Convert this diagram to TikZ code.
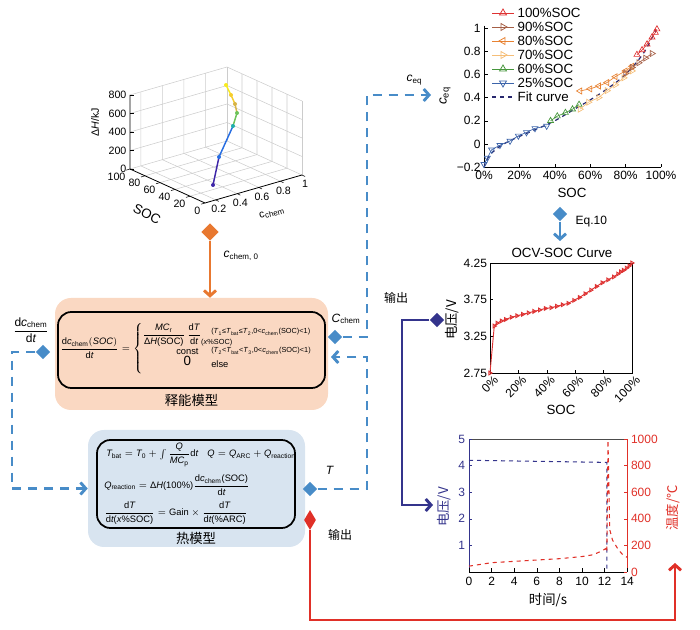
\documentclass[tikz,border=0pt]{standalone}
\usepackage{amsmath}
\usepackage{fontspec}
\setmainfont{Liberation Sans}
\newfontfamily\cjk{Noto Sans CJK SC}
\usetikzlibrary{positioning,calc,arrows.meta,shapes.geometric,plotmarks}
\definecolor{cblue}{RGB}{72,140,200}
\definecolor{corange}{RGB}{232,120,48}
\definecolor{cnavy}{RGB}{52,52,140}
\definecolor{cred}{RGB}{224,48,40}
\definecolor{cpeach}{RGB}{250,216,194}
\definecolor{cice}{RGB}{216,228,240}
\definecolor{ca}{RGB}{222,50,50}
\definecolor{cb}{RGB}{165,95,70}
\definecolor{cc}{RGB}{232,130,50}
\definecolor{cd}{RGB}{245,190,120}
\definecolor{ce}{RGB}{70,150,60}
\definecolor{cf}{RGB}{60,100,170}
\definecolor{cfit}{RGB}{40,40,110}
\definecolor{pa}{RGB}{62,38,168}
\definecolor{pb}{RGB}{40,110,225}
\definecolor{pc}{RGB}{30,175,170}
\definecolor{pd}{RGB}{110,195,90}
\definecolor{pe}{RGB}{215,180,70}
\definecolor{pf}{RGB}{245,205,45}
\definecolor{pg}{RGB}{248,235,30}
\newcommand{\ti}[1]{\textit{#1}}
\newcommand{\sbs}[1]{\textsubscript{#1}}
\newcommand{\cnd}{\fontsize{5.5}{6.5}\selectfont}
\tikzset{dpanel/.style={rounded corners=12, inner sep=0pt}}
\tikzset{dinner/.style={draw, line width=1.3pt, rounded corners=10, inner sep=0pt}}
\tikzset{dia/.style={diamond, fill=#1, inner sep=0pt, minimum size=11pt}}
\tikzset{arrd/.style={draw=cblue, line width=2.2pt, dash pattern=on 7pt off 5pt}}
\tikzset{arrh/.style={-{Straight Barb[length=4pt,width=9pt]}}}
\tikzset{tk/.style={font=\small, inner sep=1pt}}
\tikzset{gr/.style={draw=black!20, line width=0.4pt}}
\tikzset{lab/.style={font=\small, inner sep=1pt}}
\tikzset{zh/.style={font=\cjk\small, inner sep=1pt}}
\tikzset{cond/.style={font=\cnd, inner sep=0pt, anchor=west}}

\begin{document}
\begin{tikzpicture}[x=0.75pt,y=-0.75pt]
\useasboundingbox (0,0) rectangle (700,630);

\coordinate (pF) at (205,203);
\coordinate (pA) at (130,169);
\coordinate (pC) at (302,175);
\coordinate (pB) at (227,141);
\draw[gr] (pA) -- (pB) -- (pC);
\draw[gr] (pB) -- ++(0,-74);
\draw[gr] (pC) -- ++(0,-74);
\foreach \sf in {0.2,0.4,0.6,0.8} {
  \draw[gr] ($(pF)!\sf!(pA)$) -- ($(pC)!\sf!(pB)$) -- ++(0,-74);
}
\foreach \cf in {0.111,0.333,0.556,0.778} {
  \draw[gr] ($(pF)!\cf!(pC)$) -- ($(pA)!\cf!(pB)$) -- ++(0,-74);
}
\foreach \hh in {18.5,37,55.5,74} {
  \draw[gr] ($(pA)+(0,-\hh)$) -- ($(pB)+(0,-\hh)$) -- ($(pC)+(0,-\hh)$);
}
\draw[line width=0.6pt] (pC) -- (pF) -- (pA) -- ++(0,-74);
\foreach \vv/\hh [count=\i] in {0/0,200/18.5,400/37,600/55.5,800/74} {
  \draw ($(pA)+(0,-\hh)$) -- ++(4,0);
  \node[tk, font=\footnotesize, anchor=east] (zt\i) at ($(pA)+(-2,-\hh)$) {\vv};
}
\foreach \vv/\sf [count=\i] in {0/0,20/0.2,40/0.4,60/0.6,80/0.8,100/1} {
  \draw ($(pF)!\sf!(pA)$) -- ++(-4,1.2);
  \node[tk, font=\footnotesize, anchor=north east] (st\i) at ($(pF)!\sf!(pA)+(-3,2)$) {\vv};
}
\foreach \vv/\cf [count=\i] in {0.2/0.111,0.4/0.333,0.6/0.556,0.8/0.778,1/1} {
  \draw ($(pF)!\cf!(pC)$) -- ++(3,1.5);
  \node[tk, font=\footnotesize, anchor=north] (ct\i) at ($(pF)!\cf!(pC)+(3,4)$) {\vv};
}
\node[lab, rotate=90, font=\footnotesize] (zlab) at (95,122) {Δ\ti{H}/kJ};
\node[lab, rotate=-27, font=\normalsize] (slab) at (147,214) {SOC};
\node[lab, rotate=16, font=\footnotesize] (clab) at (272,213) {c\sbs{chem}};
\draw[pa, line width=1.1pt] (213,185) -- (219,157);
\draw[pb, line width=1.1pt] (219,157) -- (233,126);
\draw[pd, line width=1.1pt] (233,126) -- (237,113);
\draw[pe, line width=1.1pt] (237,113) -- (235,104);
\draw[pf, line width=1.1pt] (235,104) -- (231,95);
\draw[pg, line width=1.1pt] (231,95) -- (226,85);
\fill[pa] (213,185) circle (2);
\fill[pb] (219,157) circle (2);
\fill[pc] (233,126) circle (2);
\fill[pd] (237,113) circle (2);
\fill[pe] (235,104) circle (2);
\fill[pf] (231,95) circle (2);
\fill[pg] (226,85) circle (2);

\node[dpanel, fill=cpeach, minimum width=204.75pt, minimum height=84pt] (rel) at (191.5,354) {};
\node[dinner, minimum width=200.25pt, minimum height=57pt] (relin) at (191.5,350) {};
\node[zh, font=\cjk\normalsize] (relcap) at (191.5,400) {释能模型};
\node[anchor=west, font=\scriptsize, inner sep=0pt] (relf) at (60,349) {$\dfrac{\text{d}\ti{c}\sbs{chem}(\ti{SOC})}{\text{d}\ti{t}}=\left\{\begin{array}{@{}c@{}}\dfrac{\ti{MC}\sbs{r}}{\text{Δ}\ti{H}\text{(SOC)}}\,\dfrac{\text{d}\ti{T}}{\text{d}\ti{t}}\raisebox{-5pt}{\text{\cnd(\ti{x}\%SOC)}}\\[3pt] \text{const}\\[-1pt] \text{\normalsize 0}\\[4pt]\end{array}\right.$};
\node[cond] (cnd1) at (211,332) {(\ti{T}\sbs{1}≤\ti{T}\sbs{bat}≤\ti{T}\sbs{2},0<\ti{c}\sbs{chem}(SOC)<1)};
\node[cond] (cnd2) at (211,351) {(\ti{T}\sbs{2}<\ti{T}\sbs{bat}<\ti{T}\sbs{3},0<\ti{c}\sbs{chem}(SOC)<1)};
\node[cond, font=\scriptsize] (cnd3) at (211,364) {else};

\node[dpanel, fill=cice, minimum width=162.75pt, minimum height=87.75pt] (heat) at (196.5,488.5) {};
\node[dinner, minimum width=148.5pt, minimum height=66pt] (heatin) at (196,484) {};
\node[zh, font=\cjk\normalsize] (heatcap) at (196,538) {热模型};
\node[anchor=west, font=\scriptsize, inner sep=0pt] (heat1) at (106,455) {$\ti{T}\sbs{bat}=\ti{T}\sbs{0}+\int\dfrac{\ti{Q}}{\ti{MC}\sbs{p}}\text{d}\ti{t}\quad\ti{Q}=\ti{Q}\sbs{ARC}+\ti{Q}\sbs{reaction}$};
\node[anchor=west, font=\scriptsize, inner sep=0pt] (heat2) at (104,485) {$\ti{Q}\sbs{reaction}=\text{Δ}\ti{H}\text{(100\%)}\dfrac{\text{d}\ti{c}\sbs{chem}\text{(SOC)}}{\text{d}\ti{t}}$};
\node[anchor=west, font=\scriptsize, inner sep=0pt] (heat3) at (104,513) {$\dfrac{\text{d}\ti{T}}{\text{d}\ti{t}\text{(\ti{x}\%SOC)}}=\text{Gain}\times\dfrac{\text{d}\ti{T}}{\text{d}\ti{t}\text{(\%ARC)}}$};

\begin{scope}[shift={(484,144)}, x=1.3275pt, y=87pt]
\draw[line width=0.6pt] (0,1.02) -- (0,-0.2) -- (100,-0.2);
\foreach \vv/\tx [count=\i] in {1/1,0.8/0.8,0.6/0.6,0.4/0.4,0.2/0.2,0/0,-0.2/−0.2} {
  \draw (0,\vv) -- (2.5,\vv);
  \node[tk, anchor=east] (cy\i) at (-1,\vv) {\tx};
}
\foreach \pp [count=\i] in {0,20,40,60,80,100} {
  \draw (\pp,-0.2) -- (\pp,-0.17);
  \node[tk, anchor=north] (cx\i) at (\pp,-0.22) {\pp\%};
}
\draw[cfit, dashed, line width=0.9pt] plot[smooth] coordinates {(0,-0.2) (3,-0.1) (10,-0.01) (20,0.065) (30,0.13) (40,0.2) (50,0.29) (60,0.38) (70,0.48) (80,0.6) (90,0.78) (97,0.98)};
\draw[cf, line width=0.5pt] plot[mark=triangle, mark size=2.6pt, mark options={rotate=180}] coordinates {(0,-0.175) (1.9,-0.12) (4.3,-0.05) (9,-0.01) (14.7,0.026) (19.4,0.07) (24,0.1) (28.8,0.135) (35.4,0.155)};
\draw[ce, line width=0.5pt] plot[mark=triangle, mark size=2.6pt] coordinates {(37.6,0.2) (41.4,0.24) (46,0.27) (50,0.3) (53.7,0.34)};
\draw[cd, line width=0.5pt] plot[mark=triangle, mark size=2.6pt, mark options={rotate=-90}] coordinates {(54.2,0.3) (59,0.36) (64.8,0.4) (69.5,0.46) (74.2,0.51) (78.9,0.57) (83.6,0.63)};
\draw[cc, line width=0.5pt] plot[mark=triangle, mark size=2.6pt, mark options={rotate=90}] coordinates {(54.2,0.457) (59.9,0.475) (64.8,0.5) (69.5,0.53) (74.2,0.58) (79.9,0.63) (83.6,0.67)};
\draw[cb, line width=0.5pt] plot[mark=triangle, mark size=2.6pt, mark options={rotate=-90}] coordinates {(79.9,0.61) (83.6,0.66) (87.4,0.7) (91.2,0.74) (94.9,0.78)};
\draw[ca, line width=0.5pt] plot[mark=triangle, mark size=2.6pt] coordinates {(86.4,0.77) (89.3,0.81) (92.1,0.86) (94.9,0.92) (96.8,0.96) (97.7,0.99)};
\end{scope}
\foreach \cl/\rt/\tx/\yy [count=\i] in {ca/0/100/13,cb/-90/90/27,cc/90/80/41,cd/-90/70/55,ce/0/60/69,cf/180/25/83} {
  \draw[\cl, line width=0.6pt] (492,\yy) -- (514,\yy);
  \draw[\cl, line width=0.6pt] plot[mark=triangle, mark size=3pt, mark options={rotate=\rt}] coordinates {(503,\yy)};
  \node[tk, anchor=west, font=\normalsize] (lg\i) at (516,\yy) {\tx\%SOC};
}
\draw[cfit, dashed, line width=1pt] (492,97) -- (514,97);
\node[tk, anchor=west, font=\normalsize] (lgfit) at (516,97) {Fit curve};
\node[lab, rotate=90, font=\normalsize] (ceqlab) at (445,96) {\ti{c}\sbs{eq}};
\node[lab, font=\normalsize] (ceqx) at (572,193) {SOC};

\node[lab, font=\normalsize] (ocvt) at (562,253) {OCV-SOC Curve};
\begin{scope}[shift={(490,373)}, x=1.065pt, y=55pt]
\draw[line width=0.6pt] (0,0) rectangle (100,1.5);
\foreach \vv/\tx [count=\i] in {1.5/4.25,1/3.75,0.5/3.25,0/2.75} {
  \draw (0,\vv) -- (2,\vv);
  \node[tk, anchor=east] (oy\i) at (-1,\vv) {\tx};
}
\foreach \pp [count=\i] in {0,20,40,60,80,100} {
  \draw (\pp,0) -- (\pp,0.04);
  \node[tk, rotate=45, anchor=east] (ox\i) at (\pp+5,-0.06) {\pp\%};
}
\draw[ca, line width=0.7pt] plot[mark=triangle, mark size=1.6pt, mark options={rotate=-90}] coordinates {(0,0) (3,0.64) (5,0.68) (8,0.71) (11,0.73) (15,0.76) (19,0.78) (23,0.8) (27,0.82) (31,0.84) (35,0.86) (39,0.88) (43,0.89) (47,0.91) (51,0.93) (55,0.95) (59,0.99) (63,1.03) (67,1.08) (71,1.13) (75,1.18) (79,1.23) (83,1.27) (87,1.31) (90,1.35) (92,1.38) (94,1.4) (96,1.43) (98,1.46) (100,1.5)};
\end{scope}
\node[zh, rotate=90, font=\cjk\normalsize] (ocvy) at (452,320) {电压/V};
\node[lab, font=\normalsize] (ocvx) at (561,410) {SOC};

\begin{scope}[shift={(469,572)}, x=8.475pt, y=19.95pt]
\draw[black!70, line width=0.6pt] (0,5) -- (14,5);
\draw[line width=0.6pt] (0,0) -- (14,0);
\draw[cnavy, line width=0.6pt] (0,0) -- (0,5);
\draw[cred, line width=0.6pt] (14,0) -- (14,5);
\foreach \vv [count=\i] in {1,2,3,4,5} {
  \draw[cnavy] (0,\vv) -- (0.25,\vv);
  \node[tk, text=cnavy, anchor=east] (by\i) at (-0.2,\vv) {\vv};
}
\foreach \tv/\uu [count=\i] in {0/0,200/1,400/2,600/3,800/4,1000/5} {
  \draw[cred] (14,\uu) -- (13.75,\uu);
  \node[tk, text=cred, anchor=west] (br\i) at (14.2,\uu) {\tv};
}
\foreach \ss [count=\i] in {0,2,4,6,8,10,12,14} {
  \draw (\ss,0) -- (\ss,0.15);
  \node[tk, anchor=north] (bx\i) at (\ss,-0.15) {\ss};
}
\draw[cnavy, dashed, line width=0.8pt] (0,4.2) -- (12.2,4.12) -- (12.2,0);
\draw[cred, dashed, line width=0.8pt] (0,0.22) -- (2,0.35) -- (4,0.4) -- (6,0.45) -- (8,0.5) -- (10,0.58) -- (11,0.65) -- (11.8,0.8) -- (12.1,0.88) -- (12.2,0.75) -- (12.3,4.95) -- (12.45,1.6) -- (12.7,1.2) -- (13.2,0.85) -- (13.6,0.65) -- (14,0.55);
\end{scope}
\node[zh, rotate=90, text=cnavy, font=\cjk\normalsize] (bvl) at (444,507) {电压/V};
\node[zh, rotate=90, text=cred, font=\cjk\normalsize] (btl) at (673,508) {温度/℃};
\node[zh, font=\cjk\normalsize] (bxl) at (548,600) {时间/s};

\node[dia=corange, minimum size=13pt] (dO) at (210,232) {};
\node[dia=cblue] (dC) at (335,337) {};
\node[dia=cblue] (dD) at (43,352) {};
\node[dia=cblue] (dT) at (310,489) {};
\node[dia=cblue] (dE) at (560,214) {};
\node[dia=cnavy] (dN) at (437,320) {};
\node[dia=cred, minimum width=9pt, minimum height=15pt] (dR) at (310,520) {};

\coordinate (kR) at (367,0);
\coordinate (kL) at (12,0);
\coordinate (kN) at (402,0);
\coordinate (kB) at (0,620);
\coordinate (ceqin) at (431,95);
\coordinate (relE) at (331,357);
\coordinate (ocvin) at (560,241);
\coordinate (vin) at (433,505);
\coordinate (tin) at (675,563);

\draw[arrd, arrh] (dC) -- (dC -| kR) |- (ceqin);
\draw[arrd, arrh] (dT) -| (kR |- relE) -- (relE);
\draw[arrd, arrh] (dD) -| (kL |- heat.west) -- (heat.west);
\draw[corange, line width=2.2pt, arrh] (dO) -- (dO |- rel.north);
\draw[cblue, line width=2.2pt, arrh] (dE) -- (ocvin);
\draw[cnavy, line width=2.2pt, arrh] (dN) -| (kN |- vin) -- (vin);
\draw[cred, line width=2.2pt, arrh] (dR) |- (tin |- kB) -- (tin);

\node[lab, anchor=west] (lc0) at (222,256) {\ti{c}\sbs{chem, 0}};
\node[lab] (lcc) at (346,319) {\ti{C}\sbs{chem}};
\node[lab] (ldd) at (31,330) {$\dfrac{\text{d}\ti{c}\sbs{chem}}{\text{d}\ti{t}}$};
\node[lab] (lT) at (330,470) {\ti{T}};
\node[lab, anchor=west] (leq) at (574,222) {Eq.10};
\node[lab, anchor=west] (lceq) at (405,80) {\ti{c}\sbs{eq}};
\node[zh] (lout1) at (396,298) {输出};
\node[zh] (lout2) at (340,535) {输出};
\end{tikzpicture}
\end{document}
